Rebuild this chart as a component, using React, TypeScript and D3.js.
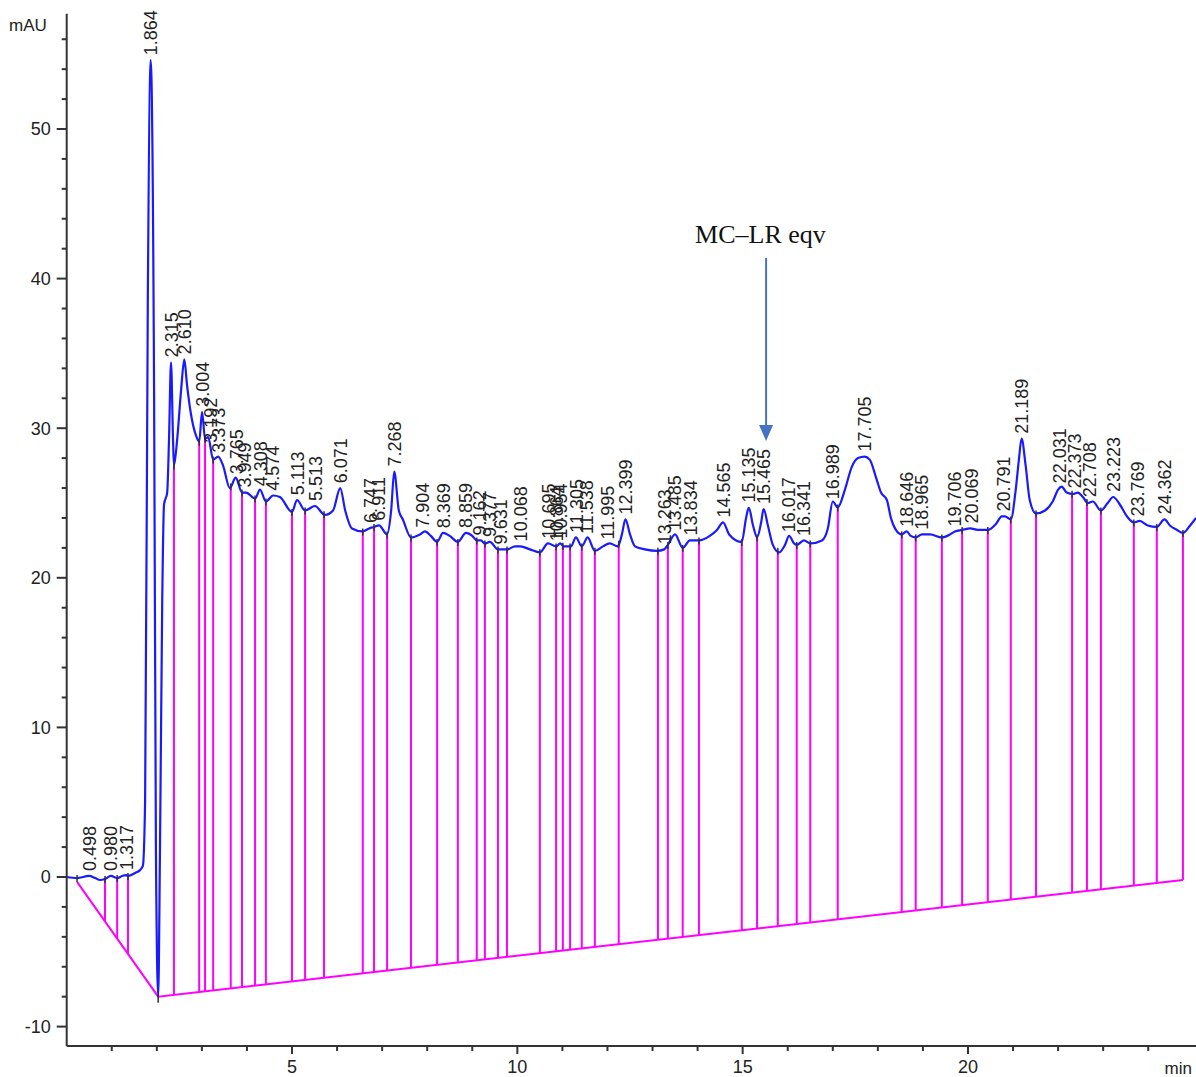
import React from "react";
import * as d3 from "d3";

// Chromatogram signal (time in min, absorbance in mAU)
const traceTimes = [
  0.0, 0.23, 0.5, 0.63, 0.74, 0.85, 0.98, 1.12, 1.23, 1.32, 1.36, 1.52, 1.63, 1.69,
  1.74, 1.8, 1.864, 1.94, 1.98, 2.03, 2.07, 2.12, 2.16, 2.23, 2.27, 2.315, 2.36, 2.38,
  2.45, 2.54, 2.61, 2.67, 2.76, 2.87, 2.94, 3.004, 3.07, 3.14, 3.25, 3.36, 3.47, 3.62,
  3.75, 3.89, 3.98, 4.18, 4.29, 4.42, 4.58, 4.73, 5.0, 5.11, 5.29, 5.51, 5.73, 5.91,
  6.07, 6.18, 6.33, 6.57, 6.71, 6.82, 6.93, 7.11, 7.2, 7.268, 7.37, 7.46, 7.64, 7.84,
  7.95, 8.08, 8.22, 8.35, 8.5, 8.68, 8.86, 9.0, 9.1, 9.19, 9.28, 9.39, 9.57, 9.77,
  9.95, 10.07, 10.28, 10.5, 10.68, 10.86, 10.95, 11.03, 11.19, 11.3, 11.43, 11.56,
  11.72, 11.9, 12.05, 12.23, 12.32, 12.399, 12.5, 12.61, 12.83, 13.1, 13.26, 13.34,
  13.5, 13.67, 13.83, 14.03, 14.27, 14.43, 14.565, 14.7, 14.98, 15.07, 15.135, 15.23,
  15.32, 15.41, 15.465, 15.56, 15.67, 15.81, 15.94, 16.03, 16.14, 16.2, 16.36, 16.5,
  16.76, 16.89, 17.0, 17.11, 17.27, 17.42, 17.56, 17.705, 17.82, 17.96, 18.07, 18.2,
  18.29, 18.4, 18.53, 18.64, 18.73, 18.84, 18.98, 19.16, 19.42, 19.6, 19.71, 19.87,
  20.05, 20.22, 20.44, 20.62, 20.75, 20.82, 20.95, 21.06, 21.13, 21.189, 21.28, 21.37,
  21.51, 21.71, 21.88, 22.0, 22.08, 22.19, 22.33, 22.44, 22.55, 22.66, 22.77, 22.95,
  23.1, 23.223, 23.37, 23.53, 23.68, 23.81, 23.99, 24.19, 24.362, 24.48, 24.64, 24.77,
  24.93, 25.06,
];
const traceValues = [
  0.0, -0.07, 0.07, -0.07, -0.2, -0.13, 0.07, -0.07, 0.07, 0.13, 0.07, 0.27, 0.47, 0.74,
  5.1, 38.6, 54.6, 31.9, 1.8, -8.0, 1.8, 18.5, 24.9, 25.7, 29.2, 34.4, 29.2, 27.5,
  29.2, 32.6, 34.6, 32.9, 30.9, 29.5, 29.1, 31.1, 29.3, 29.4, 27.9, 28.1, 27.5, 26.0,
  26.7, 25.7, 25.7, 25.3, 25.9, 25.1, 25.5, 25.4, 24.4, 25.2, 24.5, 24.8, 24.2, 24.5,
  26.0, 24.5, 23.3, 23.1, 23.3, 23.4, 23.5, 22.9, 24.5, 27.1, 24.5, 23.9, 22.7, 22.9,
  23.1, 22.8, 22.4, 23.0, 22.8, 22.4, 23.0, 22.8, 22.5, 22.5, 22.3, 22.4, 21.9, 21.9,
  22.1, 22.1, 21.9, 21.7, 22.3, 22.1, 22.3, 22.1, 22.1, 22.7, 22.1, 22.7,
  21.8, 22.1, 22.3, 22.1, 22.9, 23.9, 22.9, 22.1, 21.9, 21.8, 21.9, 22.2,
  22.9, 22.0, 22.5, 22.5, 22.8, 23.2, 23.7, 22.9, 22.4, 23.9, 24.7, 23.5,
  22.7, 23.7, 24.6, 23.5, 22.2, 21.7, 22.2, 22.8, 22.3, 22.2, 22.5, 22.3,
  22.5, 23.3, 25.1, 24.7, 25.9, 27.4, 28.0, 28.1, 27.9, 26.7, 25.7, 25.2,
  24.0, 23.2, 22.9, 23.1, 22.8, 22.7, 22.9, 22.9, 22.7, 22.9, 23.1, 23.2,
  23.3, 23.2, 23.2, 23.6, 24.1, 24.1, 23.9, 25.9, 27.9, 29.3, 27.5, 25.2,
  24.3, 24.5, 25.1, 25.9, 26.1, 25.7, 25.6, 25.7, 25.4, 25.0, 25.1, 24.5,
  25.0, 25.4, 24.9, 24.1, 23.7, 23.8, 23.5, 23.4, 23.9, 23.5, 23.2, 23.0,
  23.5, 24.0,
];

// Integration baseline (piecewise linear)
const baselineTimes = [0.23, 2.03, 24.77];
const baselineValues = [-0.33, -8.0, -0.2];

// Peak start/end drop lines (min)
const dropTimes = [
  0.85, 1.12, 1.36, 2.38, 2.94, 3.07, 3.25, 3.64, 3.89, 4.18, 4.42, 5.0, 5.29, 5.71,
  6.57, 6.82, 7.11, 7.64, 8.22, 8.68, 9.1, 9.28, 9.57, 9.77, 10.5, 10.86, 11.01, 11.17,
  11.43, 11.72, 12.25, 13.12, 13.34, 13.67, 14.03, 14.98, 15.32, 15.78, 16.2, 16.5,
  17.11, 18.53, 18.84, 19.42, 19.87, 20.44, 20.95, 21.51, 22.31, 22.64, 22.95, 23.68,
  24.19, 24.77,
];

// Retention time labels
const peakLabels = [
  "0.498", "0.980", "1.317", "1.864", "2.315", "2.610", "3.004", "3.192", "3.373",
  "3.765", "3.949", "4.308", "4.574", "5.113", "5.513", "6.071", "6.747", "6.911",
  "7.268", "7.904", "8.369", "8.859", "9.162", "9.377", "9.631", "10.068", "10.695",
  "10.864", "10.954", "11.305", "11.538", "11.995", "12.399", "13.263", "13.485",
  "13.834", "14.565", "15.135", "15.465", "16.017", "16.341", "16.989", "17.705",
  "18.646", "18.965", "19.706", "20.069", "20.791", "21.189", "22.031", "22.373",
  "22.708", "23.223", "23.769", "24.362",
];

const yMajorTicks = [-10, 0, 10, 20, 30, 40, 50];
const xMajorTicks = [5, 10, 15, 20];
const annotationText = "MC–LR eqv";
const annotationTime = 15.52;

const W = 1196;
const H = 1077;
const FONT = "'Liberation Sans', Arial, sans-serif";

function interp(ts: number[], vs: number[], t: number): number {
  if (t <= ts[0]) return vs[0];
  for (let i = 1; i < ts.length; i++) {
    if (t <= ts[i]) {
      const f = (t - ts[i - 1]) / (ts[i] - ts[i - 1]);
      return vs[i - 1] + f * (vs[i] - vs[i - 1]);
    }
  }
  return vs[vs.length - 1];
}

export default function App() {
  const x = d3.scaleLinear().domain([0, 25.06]).range([66.7, 1196]);
  const y = d3.scaleLinear().domain([0, 50]).range([877, 129]);
  const axisTop = y(57.7);
  const axisBottom = 1046;
  const axisLeft = x(0);

  const traceData = traceTimes.map((t, i) => [t, traceValues[i]] as [number, number]);
  const line = d3
    .line<[number, number]>()
    .x((d) => x(d[0]))
    .y((d) => y(d[1]))
    .curve(d3.curveMonotoneX);

  const baseData = baselineTimes.map((t, i) => [t, baselineValues[i]] as [number, number]);
  const baseLine = d3
    .line<[number, number]>()
    .x((d) => x(d[0]))
    .y((d) => y(d[1]));

  const yMinor = d3.range(-10, 57, 2);
  const xMinor = d3.range(1, 25, 1);

  const markTimes = [baselineTimes[0], ...dropTimes];

  return (
    <svg
      width={W}
      height={H}
      style={{ position: "absolute", left: 0, top: 0, background: "#fff" }}
    >
      <rect width={W} height={H} fill="#fff" />

      {/* drop lines from baseline to signal */}
      <g stroke="#ff00ff" strokeWidth={2}>
        {dropTimes.map((t, i) => (
          <line
            key={i}
            x1={x(t)}
            x2={x(t)}
            y1={y(interp(baselineTimes, baselineValues, t))}
            y2={y(interp(traceTimes, traceValues, t))}
          />
        ))}
      </g>
      <path d={baseLine(baseData) ?? ""} fill="none" stroke="#ff00ff" strokeWidth={2} />

      {/* signal */}
      <path
        d={line(traceData) ?? ""}
        fill="none"
        stroke="#1a1aff"
        strokeWidth={2.2}
        strokeLinejoin="round"
      />

      {/* integration marks */}
      <g stroke="#333" strokeWidth={1.5}>
        {markTimes.map((t, i) => {
          const yy = y(interp(traceTimes, traceValues, t));
          return <line key={i} x1={x(t)} x2={x(t)} y1={yy - 3} y2={yy + 4} />;
        })}
        <line x1={x(2.03)} x2={x(2.03)} y1={y(-8) - 2} y2={y(-8) + 6} />
      </g>

      {/* retention time labels */}
      <g fontFamily={FONT} fontSize={18} fill="#222">
        {peakLabels.map((s) => {
          const t = parseFloat(s);
          const v = interp(traceTimes, traceValues, t);
          const px = x(t);
          const py = y(v) - 5;
          return (
            <text
              key={s}
              transform={`translate(${px},${py}) rotate(-90)`}
              dy="0.36em"
              textAnchor="start"
            >
              {s}
            </text>
          );
        })}
      </g>

      {/* axes */}
      <g stroke="#333" strokeWidth={2}>
        <line x1={axisLeft} x2={axisLeft} y1={axisTop} y2={axisBottom} />
        <line x1={axisLeft} x2={W} y1={axisBottom} y2={axisBottom} />
        {yMinor.map((v) => (
          <line
            key={v}
            x1={axisLeft - (v % 10 === 0 ? 10 : 5)}
            x2={axisLeft}
            y1={y(v)}
            y2={y(v)}
          />
        ))}
        {xMinor.map((t) => (
          <line
            key={t}
            x1={x(t)}
            x2={x(t)}
            y1={axisBottom}
            y2={axisBottom + (t % 5 === 0 ? 8 : 5)}
          />
        ))}
      </g>
      <g fontFamily={FONT} fontSize={18} fill="#222">
        {yMajorTicks.map((v) => (
          <text key={v} x={axisLeft - 16} y={y(v)} dy="0.35em" textAnchor="end">
            {v}
          </text>
        ))}
        {xMajorTicks.map((t) => (
          <text key={t} x={x(t)} y={1073} textAnchor="middle">
            {t}
          </text>
        ))}
        <text x={1192} y={1074} textAnchor="end" fontSize={17}>min</text>
        <text x={9} y={31} fontSize={17}>mAU</text>
      </g>

      {/* annotation */}
      <text
        x={x(annotationTime) - 71}
        y={243}
        fontFamily="'Liberation Serif', 'Times New Roman', serif"
        fontSize={26}
        fill="#111"
      >
        {annotationText}
      </text>
      <g stroke="#4472c4" fill="#4472c4">
        <line x1={x(annotationTime)} x2={x(annotationTime)} y1={258} y2={428} strokeWidth={2} />
        <path
          d={`M${x(annotationTime) - 7},${425} L${x(annotationTime) + 7},${425} L${x(annotationTime)},${441} Z`}
          stroke="none"
        />
      </g>
    </svg>
  );
}
